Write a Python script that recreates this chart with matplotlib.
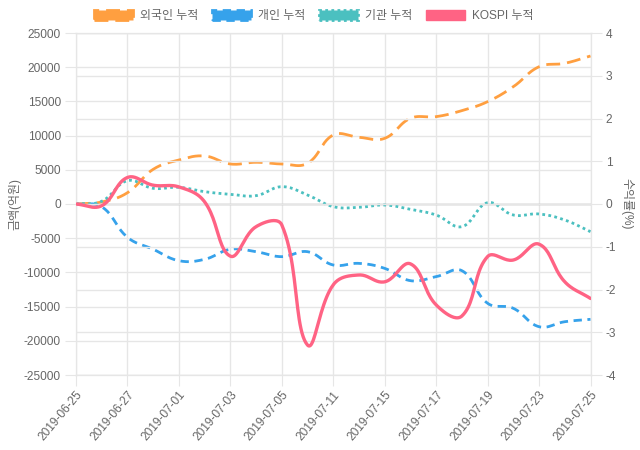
import numpy as np
import matplotlib
matplotlib.use('Agg')
import matplotlib.pyplot as plt
from matplotlib.patches import Patch

plt.rcParams['font.family'] = ['Liberation Sans', 'Noto Sans CJK KR', 'DejaVu Sans']
plt.rcParams['axes.unicode_minus'] = False

# 날짜 (거래일)
dates = ['2019-06-25', '2019-06-26', '2019-06-27', '2019-06-28', '2019-07-01',
         '2019-07-02', '2019-07-03', '2019-07-04', '2019-07-05', '2019-07-08',
         '2019-07-11', '2019-07-12', '2019-07-15', '2019-07-16', '2019-07-17',
         '2019-07-18', '2019-07-19', '2019-07-22', '2019-07-23', '2019-07-24',
         '2019-07-25']

# 누적 순매수 (억원)
foreign = [0, 300, 1650, 5070, 6430, 7020, 5850, 6100, 5850, 5950,
           10090, 9750, 9600, 12530, 12770, 13650, 14960, 17150, 20070, 20570, 21640]
individual = [0, -400, -4870, -6620, -8290, -8090, -6620, -6970, -7700, -6970,
              -8920, -8680, -9410, -11210, -10620, -9750, -14520, -15250, -17940, -17210, -16860]
institution = [0, 400, 3410, 2290, 2440, 1800, 1420, 1220, 2530, 1320,
               -390, -490, -150, -780, -1610, -3310, 190, -1610, -1460, -2340, -4050]
# KOSPI 누적 수익률 (%)
kospi = [0, -0.04, 0.62, 0.44, 0.40, 0.05, -1.22, -0.53, -0.49, -3.30,
         -1.89, -1.66, -1.82, -1.40, -2.36, -2.62, -1.23, -1.31, -0.94, -1.82, -2.21]

names = ['외국인 누적', '개인 누적', '기관 누적', 'KOSPI 누적']
colors = ['#FF9F40', '#36A2EB', '#4BC0C0', '#FF6384']

txt = '#666666'
grid = '#e6e6e6'
fs = 8.6


def smooth(axis, ys, tension=0.4, n=24):
    # chart.js 스타일 곡선 (픽셀 좌표에서 계산)
    xs = np.arange(len(ys))
    P = axis.transData.transform(np.column_stack([xs, ys]))
    bb = axis.bbox
    prv = P.copy()
    nxt = P.copy()
    for i in range(len(P)):
        p0 = P[i - 1] if i > 0 else P[i]
        p1 = P[i]
        p2 = P[i + 1] if i < len(P) - 1 else P[i]
        d01 = np.hypot(*(p1 - p0))
        d12 = np.hypot(*(p2 - p1))
        s = d01 + d12
        s01 = d01 / s if s else 0
        s12 = d12 / s if s else 0
        prv[i] = p1 - tension * s01 * (p2 - p0)
        nxt[i] = p1 + tension * s12 * (p2 - p0)
    for arr in (prv, nxt):
        arr[:, 0] = np.clip(arr[:, 0], bb.x0, bb.x1)
        arr[:, 1] = np.clip(arr[:, 1], bb.y0, bb.y1)
    t = np.linspace(0, 1, n)[:, None]
    parts = []
    for i in range(len(P) - 1):
        seg = ((1 - t) ** 3 * P[i] + 3 * (1 - t) ** 2 * t * nxt[i]
               + 3 * (1 - t) * t ** 2 * prv[i + 1] + t ** 3 * P[i + 1])
        parts.append(seg if i == 0 else seg[1:])
    curve = np.vstack(parts)
    c = axis.transData.inverted().transform(curve)
    return c[:, 0], c[:, 1]


fig = plt.figure(figsize=(6.4, 4.5), dpi=100)
ax = fig.add_axes([76 / 640, 75 / 450, 514.5 / 640, 342 / 450])
ax2 = ax.twinx()

ax.set_xlim(0, len(dates) - 1)
ax.set_ylim(-25000, 25000)
ax2.set_ylim(-4, 4)

ax.set_yticks(np.arange(-25000, 25001, 5000))
ax2.set_yticks(np.arange(-4, 5, 1))
xt = list(range(0, len(dates), 2))
ax.set_xticks(xt)
ax.set_xticklabels([dates[i] for i in xt], rotation=50, ha='right',
                   rotation_mode='anchor', fontsize=fs, color=txt)

ax.grid(True, color=grid, lw=1)
ax2.grid(True, axis='y', color=grid, lw=1)
ax.set_axisbelow(True)
ax.axhline(0, color='#b3b3b3', lw=1, zorder=1)

for a in (ax, ax2):
    for sp in a.spines.values():
        sp.set_color(grid)
    a.tick_params(length=8, color=grid, labelsize=fs, labelcolor=txt, pad=3)
ax.tick_params(axis='x', pad=2)

fig.canvas.draw()

series = [foreign, individual, institution]
dashes = [(5, 2.5), (3, 2), (1, 1.2)]
for vals, col, d in zip(series, colors[:3], dashes):
    x, y = smooth(ax, vals)
    ax.plot(x, y, color=col, lw=2, dashes=d, dash_capstyle='butt', zorder=3)

x, y = smooth(ax2, kospi)
ax2.plot(x, y, color=colors[3], lw=2.4, solid_capstyle='round', zorder=3)

ax.set_ylabel('금액(억원)', color=txt, fontsize=fs, labelpad=2)
ax2.set_ylabel('수익률(%)', color=txt, fontsize=fs, rotation=270, labelpad=12)

handles = [
    Patch(facecolor=colors[0], edgecolor=colors[0], linestyle=(0, (5, 2.5)), lw=2),
    Patch(facecolor=colors[1], edgecolor=colors[1], linestyle=(0, (3, 2)), lw=2),
    Patch(facecolor=colors[2], edgecolor=colors[2], linestyle=(0, (1, 1.2)), lw=2),
    Patch(facecolor=colors[3], edgecolor=colors[3], lw=1),
]
leg = fig.legend(handles, names, loc='center', bbox_to_anchor=(0.49, 1 - 16 / 450),
                 ncol=4, frameon=False, fontsize=fs, handlelength=3.3,
                 handleheight=0.95, handletextpad=0.6, columnspacing=1.1)
for t in leg.get_texts():
    t.set_color(txt)

fig.savefig('out.png', dpi=100)
